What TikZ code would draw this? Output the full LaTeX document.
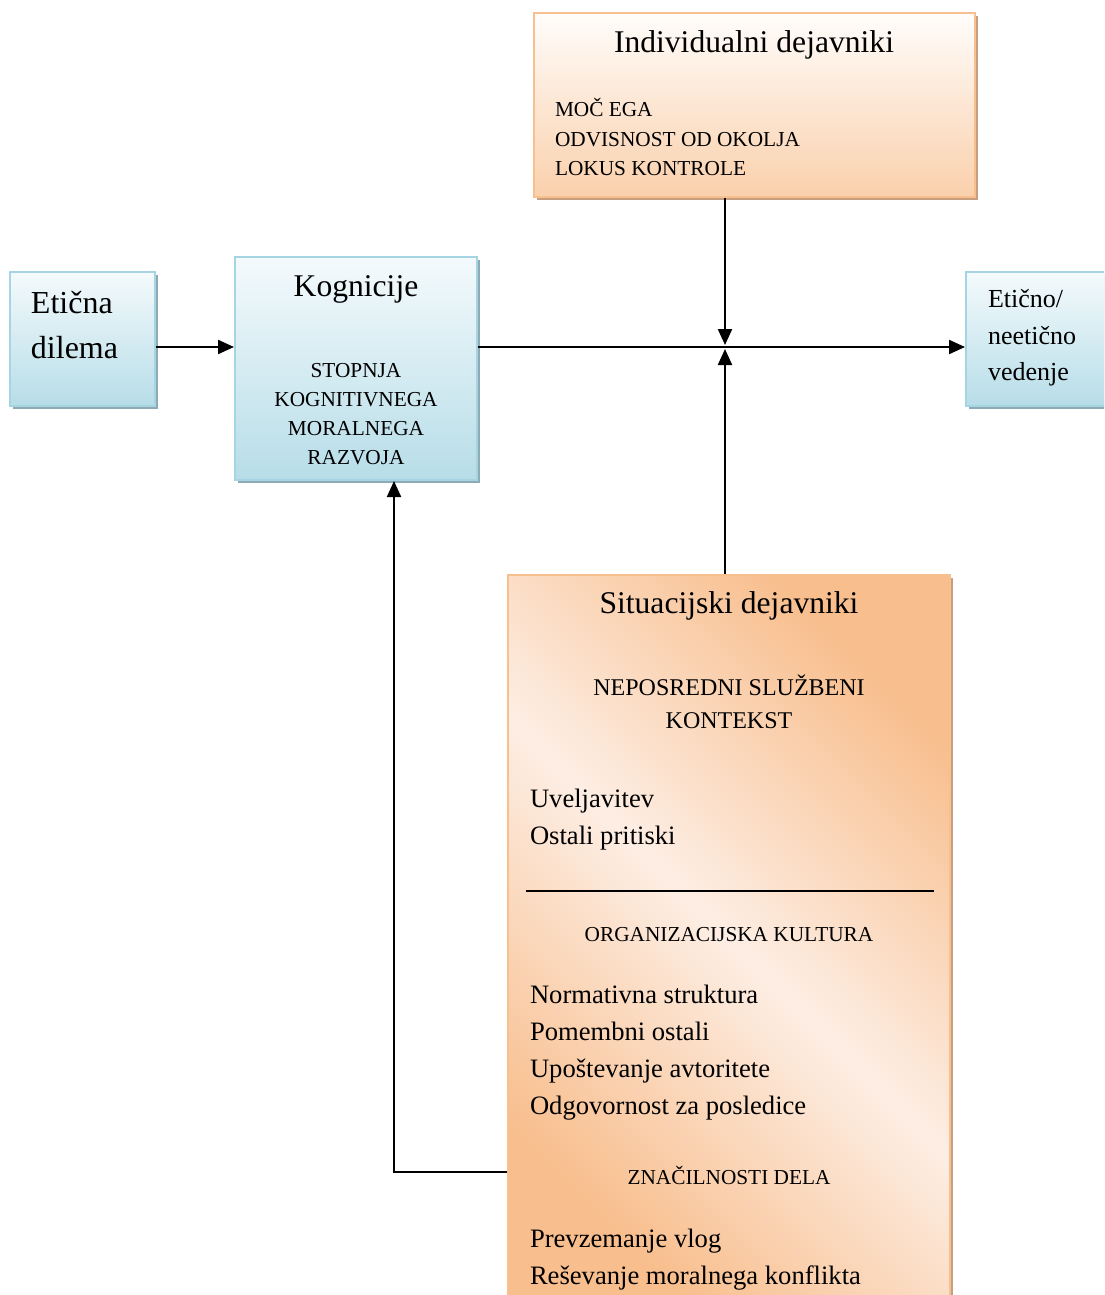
\documentclass[tikz,border=0pt]{standalone}
\usepackage{fontspec}
\setmainfont{Liberation Serif}
\usetikzlibrary{shadows,fit,arrows.meta}

\definecolor{blueTop}{HTML}{F4FAFC}
\definecolor{blueBot}{HTML}{B7DDE8}
\definecolor{blueBorder}{HTML}{A5D5E3}
\definecolor{blueShadow}{HTML}{8EAAB5}
\definecolor{orTop}{HTML}{FFFDFB}
\definecolor{orBot}{HTML}{FAD0AC}
\definecolor{orBorder}{HTML}{F8C08F}
\definecolor{orShadow}{HTML}{C79F80}
\definecolor{orDark}{HTML}{F8BE8D}
\definecolor{orLight}{HTML}{FDEEE4}

\tikzset{
  boxbase/.style={rectangle, inner sep=0pt, line width=1pt},
  bluebox/.style={boxbase, draw=blueBorder, top color=blueTop, bottom color=blueBot,
    drop shadow={shadow xshift=1.5pt, shadow yshift=-1.5pt, fill=blueShadow, opacity=1}},
  orangebox/.style={boxbase, draw=orBorder, top color=orTop, bottom color=orBot,
    drop shadow={shadow xshift=1.5pt, shadow yshift=-1.5pt, fill=orShadow, opacity=1}},
  diagbox/.style={boxbase, draw=orBorder, top color=orDark, bottom color=orDark,
    middle color=orLight, shading angle=-45,
    drop shadow={shadow xshift=1.5pt, shadow yshift=-1.5pt, fill=orShadow, opacity=1}},
  txt/.style={inner sep=0pt, outer sep=0pt},
  ttl/.style={txt, font=\fontsize{15.8}{19}\selectfont, anchor=base},
  big/.style={txt, font=\fontsize{16}{19}\selectfont, anchor=base west},
  body/.style={txt, font=\fontsize{13.3}{16}\selectfont, anchor=base west},
  caps/.style={txt, font=\fontsize{10.65}{13}\selectfont},
  arr/.style={line width=1.1pt, -{Triangle[length=8pt, width=7pt]}},
  conn/.style={line width=1.1pt}
}

\begin{document}
\begin{tikzpicture}[x=0.5pt, y=-0.5pt]
\useasboundingbox (0,0) rectangle (1104,1295);
\clip (0,0) rectangle (1104,1295);

% boxes
\node[bluebox, fit={(10,272) (155,406)}] (dil) {};
\node[bluebox, fit={(235,257) (477,480)}] (kog) {};
\node[orangebox, fit={(534,13) (975,197)}] (ind) {};
\node[bluebox, fit={(966,272) (1112,406)}] (out) {};
\node[diagbox, fit={(508,575) (950,1300)}] (sit) {};

% Etična dilema
\node[big] (dil1) at (31,313) {Etična};
\node[big] (dil2) at (31,358) {dilema};

% Kognicije
\node[ttl] (kogT) at (356,296) {Kognicije};
\node[caps, anchor=base] (kog1) at (356,377) {STOPNJA};
\node[caps, anchor=base] (kog2) at (356,406) {KOGNITIVNEGA};
\node[caps, anchor=base] (kog3) at (356,435) {MORALNEGA};
\node[caps, anchor=base] (kog4) at (356,464) {RAZVOJA};

% Individualni dejavniki
\node[ttl] (indT) at (754,53) {Individualni dejavniki};
\node[caps, anchor=base west] (ind1) at (555,117) {MOČ EGA};
\node[caps, anchor=base west] (ind2) at (555,147) {ODVISNOST OD OKOLJA};
\node[caps, anchor=base west] (ind3) at (555,176) {LOKUS KONTROLE};

% Etično / neetično vedenje
\node[body, font=\fontsize{13}{16}\selectfont] (out1) at (988,307) {Etično/};
\node[body, font=\fontsize{13}{16}\selectfont] (out2) at (988,344) {neetično};
\node[body, font=\fontsize{13}{16}\selectfont] (out3) at (988,380) {vedenje};

% Situacijski dejavniki
\node[ttl] (sitT) at (729,613) {Situacijski dejavniki};
\node[caps, font=\fontsize{12}{14}\selectfont, anchor=base] (sitA1) at (729,695) {NEPOSREDNI SLUŽBENI};
\node[caps, font=\fontsize{12}{14}\selectfont, anchor=base] (sitA2) at (729,728) {KONTEKST};
\node[body] (sa1) at (530,807) {Uveljavitev};
\node[body] (sa2) at (530,844) {Ostali pritiski};
\draw[conn] (526,891) -- (934,891);
\node[caps, anchor=base] (sitB) at (729,941) {ORGANIZACIJSKA KULTURA};
\node[body] (sb1) at (530,1003) {Normativna struktura};
\node[body] (sb2) at (530,1040) {Pomembni ostali};
\node[body] (sb3) at (530,1077) {Upoštevanje avtoritete};
\node[body] (sb4) at (530,1114) {Odgovornost za posledice};
\node[caps, anchor=base] (sitC) at (729,1184) {ZNAČILNOSTI DELA};
\node[body] (sc1) at (530,1247) {Prevzemanje vlog};
\node[body] (sc2) at (530,1284) {Reševanje moralnega konflikta};

% connectors
\coordinate (junc) at (725,347);
\coordinate (fb) at (394,1172);
\draw[arr] (dil.east |- junc) -- (kog.west |- junc);
\draw[arr] (kog.east |- junc) -- (out.west |- junc);
\draw[arr, shorten >=1pt] (ind.south -| junc) -- (junc);
\draw[arr, shorten >=1pt] (sit.north -| junc) -- (junc);
\draw[arr] (sit.west |- fb) -- (fb) -- (kog.south -| fb);
\end{tikzpicture}
\end{document}
